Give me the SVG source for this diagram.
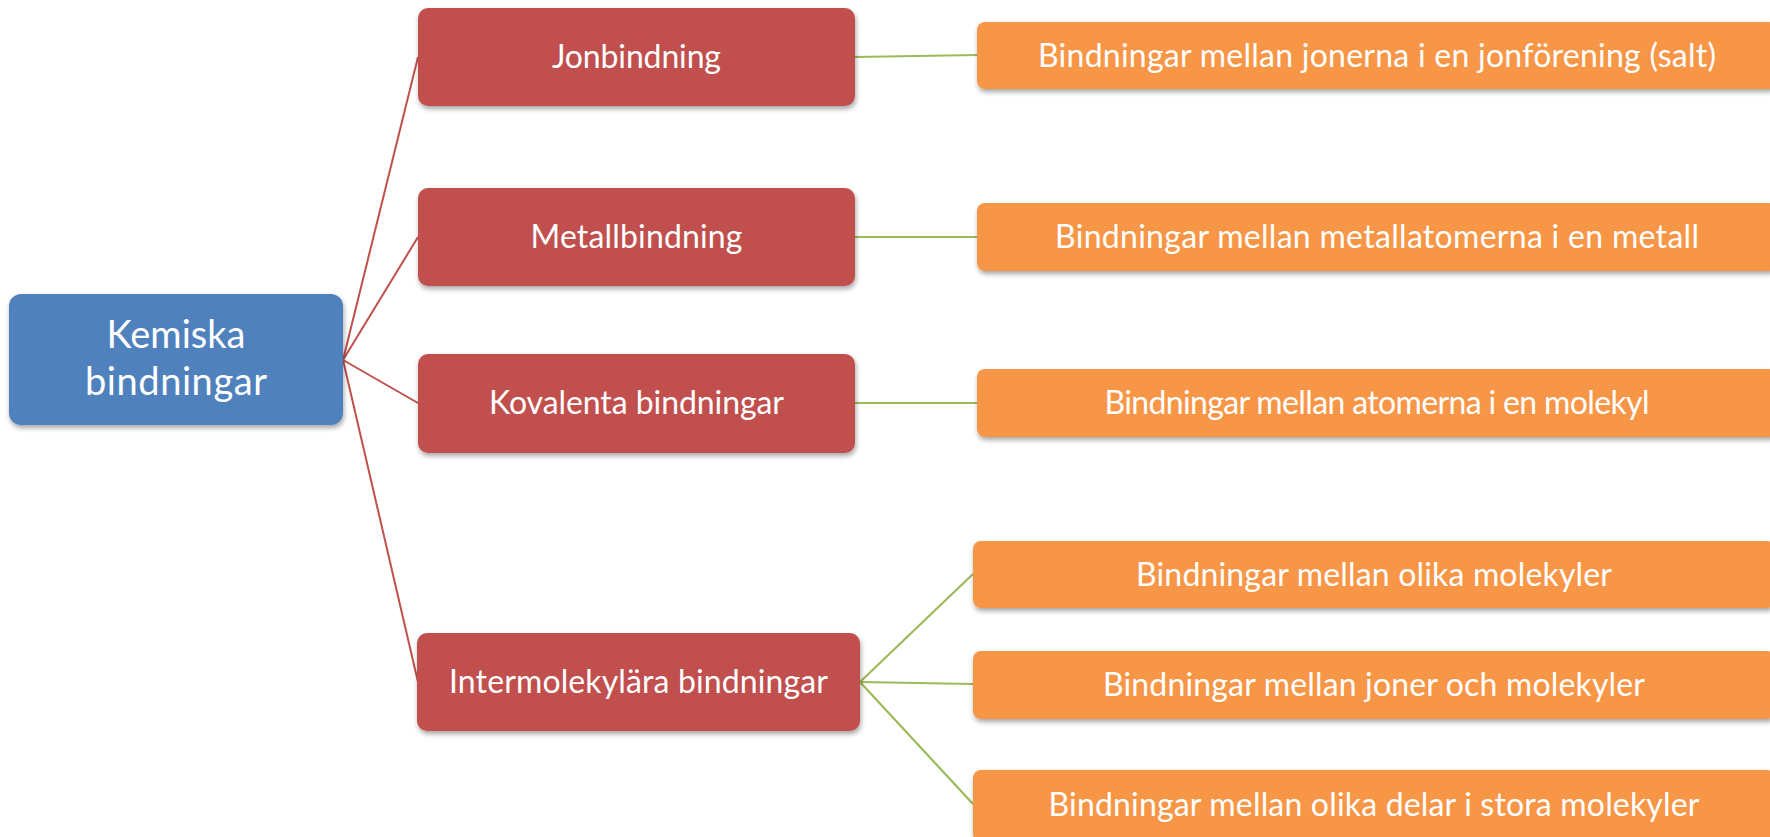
<svg xmlns="http://www.w3.org/2000/svg" width="1770" height="837" viewBox="0 0 1770 837">
<defs>
<filter id="sh" x="-10%" y="-20%" width="120%" height="150%">
<feDropShadow dx="1" dy="3" stdDeviation="2.5" flood-color="#000" flood-opacity="0.35"/>
</filter>
</defs>
<style>
.root{fill:#4F81BD;filter:url(#sh)}
.red{fill:#C0504D;filter:url(#sh)}
.org{fill:#F79646;filter:url(#sh)}
text{font-family:Lato,"Open Sans","Liberation Sans",sans-serif;fill:#fff;text-anchor:middle}
.t1{font-size:38px}
.t2{font-size:32px}
.lr{stroke:#C0504D;stroke-width:2;fill:none}
.lg{stroke:#9BBB59;stroke-width:2.2;fill:none}
</style>
<rect width="1770" height="837" fill="#fff"/>
<g id="connectors">
<line class="lr" x1="343" y1="360" x2="418" y2="57"/>
<line class="lr" x1="343" y1="360" x2="418" y2="237"/>
<line class="lr" x1="343" y1="360" x2="418" y2="403"/>
<line class="lr" x1="343" y1="360" x2="418" y2="682"/>
<line class="lg" x1="855" y1="57" x2="977" y2="55"/>
<line class="lg" x1="855" y1="237" x2="977" y2="237"/>
<line class="lg" x1="855" y1="403" x2="977" y2="403"/>
<line class="lg" x1="860" y1="682" x2="973" y2="574"/>
<line class="lg" x1="860" y1="682" x2="973" y2="684"/>
<line class="lg" x1="860" y1="682" x2="973" y2="804"/>
</g>
<g id="root">
<rect class="root" x="9" y="294" width="334" height="131" rx="12"/>
<text class="t1" x="176" y="348" textLength="139">Kemiska</text>
<text class="t1" x="176" y="395" textLength="182">bindningar</text>
</g>
<g id="jonbindning">
<rect class="red" x="418" y="8" width="437" height="98" rx="10"/>
<text class="t2" x="636.5" y="68" textLength="169">Jonbindning</text>
</g>
<g id="metallbindning">
<rect class="red" x="418" y="188" width="437" height="98" rx="10"/>
<text class="t2" x="636.5" y="248" textLength="212">Metallbindning</text>
</g>
<g id="kovalenta">
<rect class="red" x="418" y="354" width="437" height="99" rx="10"/>
<text class="t2" x="636.5" y="414" textLength="295">Kovalenta bindningar</text>
</g>
<g id="intermolekylara">
<rect class="red" x="417" y="633" width="443" height="98" rx="10"/>
<text class="t2" x="638.5" y="693" textLength="379">Intermolekylära bindningar</text>
</g>
<g id="o1">
<rect class="org" x="977" y="22" width="800" height="67" rx="8"/>
<text class="t2" x="1377" y="67" textLength="678">Bindningar mellan jonerna i en jonförening (salt)</text>
</g>
<g id="o2">
<rect class="org" x="977" y="203" width="800" height="68" rx="8"/>
<text class="t2" x="1377" y="248" textLength="644">Bindningar mellan metallatomerna i en metall</text>
</g>
<g id="o3">
<rect class="org" x="977" y="369" width="800" height="68" rx="8"/>
<text class="t2" x="1377" y="414" textLength="545">Bindningar mellan atomerna i en molekyl</text>
</g>
<g id="o4">
<rect class="org" x="973" y="541" width="802" height="67" rx="8"/>
<text class="t2" x="1374" y="586" textLength="476">Bindningar mellan olika molekyler</text>
</g>
<g id="o5">
<rect class="org" x="973" y="651" width="802" height="68" rx="8"/>
<text class="t2" x="1374" y="696" textLength="542">Bindningar mellan joner och molekyler</text>
</g>
<g id="o6">
<rect class="org" x="973" y="770" width="802" height="72" rx="8"/>
<text class="t2" x="1374" y="816" textLength="651">Bindningar mellan olika delar i stora molekyler</text>
</g>
</svg>
